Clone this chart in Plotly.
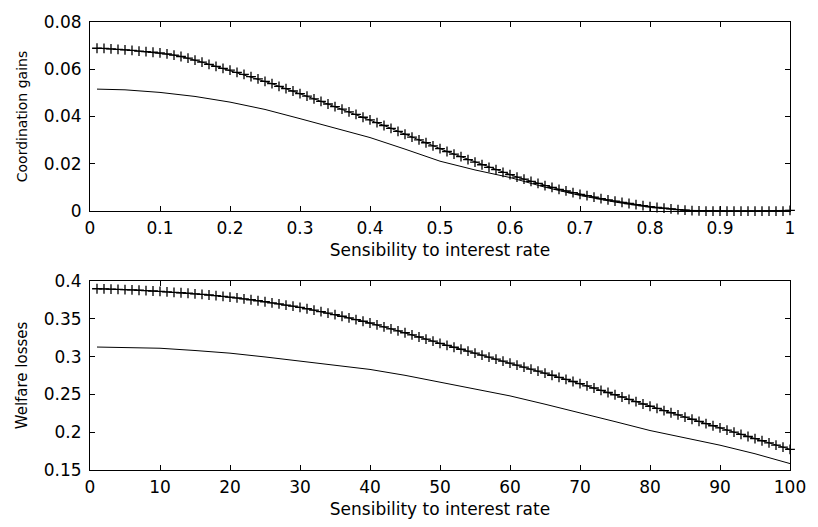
import plotly.graph_objects as go

# ---------------- data ----------------
# Top panel: x = 0.01 .. 1.00 (step 0.01)
top_x = [round(0.01 * i, 2) for i in range(1, 101)]
top_plus = [
    0.0689, 0.0688, 0.0686, 0.0684, 0.0682, 0.0680, 0.0677, 0.0675, 0.0672, 0.0669,
    0.0665, 0.0660, 0.0654, 0.0647, 0.0639, 0.0630, 0.0621, 0.0612, 0.0604, 0.0596,
    0.0587, 0.0578, 0.0569, 0.0559, 0.0549, 0.0539, 0.0528, 0.0518, 0.0508, 0.0497,
    0.0486, 0.0475, 0.0464, 0.0453, 0.0442, 0.0431, 0.0420, 0.0409, 0.0397, 0.0386,
    0.0374, 0.0362, 0.0350, 0.0337, 0.0325, 0.0313, 0.0301, 0.0289, 0.0276, 0.0264,
    0.0252, 0.0241, 0.0230, 0.0218, 0.0207, 0.0196, 0.0185, 0.0175, 0.0164, 0.0154,
    0.0144, 0.0135, 0.0126, 0.0117, 0.0108, 0.0100, 0.0092, 0.0085, 0.0078, 0.0071,
    0.0065, 0.0059, 0.0053, 0.0047, 0.0042, 0.0037, 0.0032, 0.0027, 0.0023, 0.0019,
    0.0015, 0.0012, 0.0009, 0.0006, 0.0004, 0.0002, 0.0001, 0.0000, 0.0000, 0.0000,
    0.0000, 0.0000, 0.0000, 0.0000, 0.0000, 0.0000, 0.0000, 0.0000, 0.0000, 0.0003,
]
top_line_x = [0.01, 0.05, 0.10, 0.15, 0.20, 0.25, 0.30, 0.35, 0.40, 0.45, 0.50,
              0.55, 0.60, 0.65, 0.70, 0.75, 0.80, 0.85, 0.90, 0.95, 1.00]
top_line = [0.0516, 0.0513, 0.0502, 0.0485, 0.0461, 0.0430, 0.0391, 0.0352, 0.0311,
            0.0262, 0.0211, 0.0174, 0.0142, 0.0101, 0.0066, 0.0038, 0.0016, 0.0003,
            0.0000, 0.0000, 0.0000]

# Bottom panel: x = 1 .. 100
bot_x = list(range(1, 101))
bot_plus = [
    0.3897, 0.3895, 0.3892, 0.3889, 0.3885, 0.3881, 0.3877, 0.3872, 0.3867, 0.3862,
    0.3856, 0.3850, 0.3844, 0.3837, 0.3830, 0.3822, 0.3814, 0.3805, 0.3796, 0.3787,
    0.3776, 0.3764, 0.3751, 0.3738, 0.3725, 0.3711, 0.3696, 0.3681, 0.3666, 0.3650,
    0.3632, 0.3613, 0.3594, 0.3575, 0.3555, 0.3533, 0.3511, 0.3489, 0.3467, 0.3444,
    0.3418, 0.3392, 0.3366, 0.3341, 0.3315, 0.3287, 0.3259, 0.3231, 0.3203, 0.3175,
    0.3149, 0.3123, 0.3097, 0.3071, 0.3045, 0.3019, 0.2992, 0.2966, 0.2939, 0.2913,
    0.2886, 0.2860, 0.2833, 0.2807, 0.2780, 0.2753, 0.2725, 0.2698, 0.2670, 0.2643,
    0.2613, 0.2584, 0.2554, 0.2525, 0.2495, 0.2465, 0.2434, 0.2404, 0.2373, 0.2343,
    0.2314, 0.2286, 0.2257, 0.2229, 0.2200, 0.2171, 0.2142, 0.2114, 0.2085, 0.2056,
    0.2028, 0.2000, 0.1971, 0.1943, 0.1915, 0.1887, 0.1859, 0.1830, 0.1802, 0.1774,
]
bot_line_x = [1, 5, 10, 15, 20, 25, 30, 35, 40, 45, 50, 55, 60, 65, 70, 75, 80, 85, 90, 95, 100]
bot_line = [0.3126, 0.3120, 0.3110, 0.3080, 0.3045, 0.2995, 0.2938, 0.2885, 0.2830,
            0.2752, 0.2660, 0.2570, 0.2480, 0.2370, 0.2250, 0.2140, 0.2022, 0.1925,
            0.1828, 0.1715, 0.1585]

top_xticks = [0, 0.1, 0.2, 0.3, 0.4, 0.5, 0.6, 0.7, 0.8, 0.9, 1]
top_xticklabels = ["0", "0.1", "0.2", "0.3", "0.4", "0.5", "0.6", "0.7", "0.8", "0.9", "1"]
top_yticks = [0, 0.02, 0.04, 0.06, 0.08]
top_yticklabels = ["0", "0.02", "0.04", "0.06", "0.08"]
bot_xticks = [0, 10, 20, 30, 40, 50, 60, 70, 80, 90, 100]
bot_xticklabels = ["0", "10", "20", "30", "40", "50", "60", "70", "80", "90", "100"]
bot_yticks = [0.15, 0.2, 0.25, 0.3, 0.35, 0.4]
bot_yticklabels = ["0.15", "0.2", "0.25", "0.3", "0.35", "0.4"]

x_title = "Sensibility to interest rate"
top_y_title = "Coordination gains"
bot_y_title = "Welfare losses"

# ---------------- figure ----------------
FONT = "DejaVu Sans, Verdana, sans-serif"
marker_style = dict(symbol="cross-thin", size=7, color="black",
                    line=dict(color="black", width=1.3))

fig = go.Figure()
fig.add_trace(go.Scatter(x=top_x, y=top_plus, mode="lines+markers",
                         line=dict(color="black", width=1), marker=marker_style,
                         xaxis="x", yaxis="y", cliponaxis=False))
fig.add_trace(go.Scatter(x=top_line_x, y=top_line, mode="lines",
                         line=dict(color="black", width=1),
                         xaxis="x", yaxis="y"))
fig.add_trace(go.Scatter(x=bot_x, y=bot_plus, mode="lines+markers",
                         line=dict(color="black", width=1), marker=marker_style,
                         xaxis="x2", yaxis="y2", cliponaxis=False))
fig.add_trace(go.Scatter(x=bot_line_x, y=bot_line, mode="lines",
                         line=dict(color="black", width=1),
                         xaxis="x2", yaxis="y2"))

axis_common = dict(showline=True, linecolor="black", linewidth=1, mirror="ticks",
                   ticks="inside", ticklen=5, tickcolor="black", tickwidth=1,
                   showgrid=False, zeroline=False,
                   tickfont=dict(family=FONT, size=17, color="black"))

fig.update_layout(
    width=818, height=527,
    margin=dict(l=90, r=18, t=16, b=50),
    paper_bgcolor="white", plot_bgcolor="white",
    showlegend=False,
    font=dict(family=FONT, color="black"),
    xaxis=dict(domain=[0, 1], anchor="y", range=[0, 1],
               tickvals=top_xticks, ticktext=top_xticklabels,
               ticklabelstandoff=2,
               title=dict(text=x_title, font=dict(size=17), standoff=6),
               **axis_common),
    yaxis=dict(domain=[0.578, 1.0], anchor="x", range=[0, 0.08],
               tickvals=top_yticks, ticktext=top_yticklabels,
               ticklabelstandoff=4,
               title=dict(text=top_y_title, font=dict(size=14), standoff=12),
               **axis_common),
    xaxis2=dict(domain=[0, 1], anchor="y2", range=[0, 100],
                tickvals=bot_xticks, ticktext=bot_xticklabels,
                ticklabelstandoff=2,
                title=dict(text=x_title, font=dict(size=17), standoff=6),
                **axis_common),
    yaxis2=dict(domain=[0.0, 0.422], anchor="x2", range=[0.15, 0.4],
                tickvals=bot_yticks, ticktext=bot_yticklabels,
                ticklabelstandoff=4,
                title=dict(text=bot_y_title, font=dict(size=15), standoff=12),
                **axis_common),
)

fig.write_html("out.html", config={"displayModeBar": False},
               post_script="document.body.style.margin='0px';document.body.style.overflow='hidden';")
